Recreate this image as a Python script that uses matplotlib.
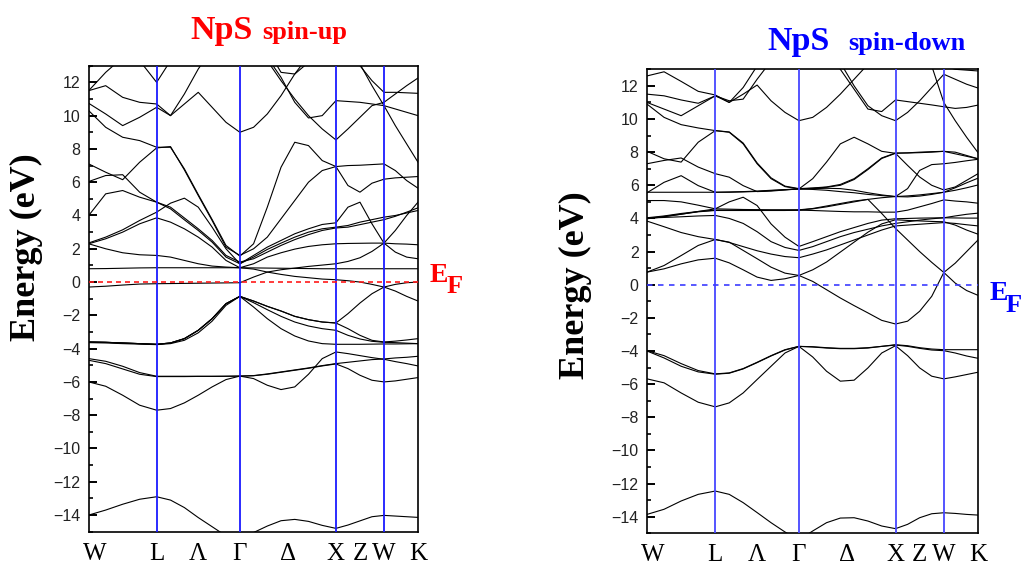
import numpy as np
import matplotlib.pyplot as plt
from matplotlib.ticker import MultipleLocator

# fcc path W-L-G-X-W-K, distances in units of 2pi/a
kpath_pts = [0.0, 0.707, 1.573, 2.573, 3.073, 3.427]
kpath_steps = [4, 6, 7, 4, 3]
klabels = ['W', 'L', 'Λ', 'Γ', 'Δ', 'X', 'Z', 'W', 'K']

# ---- NpS spin-up bands (eV), sampled along the path ----
up_s   = [-14.0, -13.7, -13.35, -13.05, -12.9,  -13.1, -13.55, -14.15, -14.7, -15.25, -15.6,  -15.05, -14.66, -14.34, -14.26, -14.38, -14.62, -14.8,  -14.6, -14.35, -14.1, -14.02,  -14.06, -14.1, -14.14]
up_p1  = [-6.0, -6.26, -6.8, -7.4, -7.7,  -7.6, -7.26, -6.8, -6.3, -5.86, -5.65,  -5.8, -6.2, -6.46, -6.3, -5.54, -4.6, -4.2,  -4.3, -4.42, -4.54, -4.64,  -4.78, -4.9, -5.04]
up_p2  = [-4.6, -4.76, -5.06, -5.44, -5.66,  -5.66, -5.66, -5.66, -5.66, -5.66, -5.65,  -5.62, -5.52, -5.4, -5.28, -5.16, -5.02, -4.9,  -4.82, -4.74, -4.66, -4.62,  -4.56, -4.52, -4.46]
up_p3  = [-4.7, -4.9, -5.22, -5.54, -5.68,  -5.68, -5.68, -5.67, -5.67, -5.66, -5.65,  -5.63, -5.54, -5.42, -5.3, -5.18, -5.04, -4.92,  -5.2, -5.6, -5.9, -6.0,  -5.94, -5.84, -5.74]
up_g1  = [-3.6, -3.62, -3.66, -3.7, -3.74,  -3.66, -3.4, -2.9, -2.2, -1.3, -0.86,  -1.14, -1.46, -1.74, -2.06, -2.26, -2.4, -2.46,  -1.9, -1.26, -0.7, -0.3,  -0.14, -0.04, 0.0]
up_g2  = [-3.6, -3.62, -3.66, -3.7, -3.74,  -3.66, -3.4, -2.9, -2.2, -1.3, -0.86,  -1.14, -1.46, -1.74, -2.06, -2.26, -2.4, -2.46,  -2.8, -3.2, -3.5, -3.6,  -3.55, -3.48, -3.4]
up_g3  = [-3.64, -3.66, -3.7, -3.73, -3.76,  -3.7, -3.5, -3.05, -2.35, -1.4, -0.86,  -1.24, -1.66, -2.06, -2.4, -2.64, -2.8, -2.9,  -3.2, -3.42, -3.56, -3.62,  -3.64, -3.67, -3.7]
up_g4  = [-3.6, -3.62, -3.66, -3.7, -3.74,  -3.66, -3.4, -2.9, -2.2, -1.3, -0.86,  -1.5, -2.2, -2.8, -3.24, -3.54, -3.7, -3.74,  -3.74, -3.74, -3.73, -3.72,  -3.72, -3.71, -3.7]
up_f0  = [-0.3, -0.25, -0.18, -0.12, -0.1,  -0.09, -0.08, -0.07, -0.06, -0.05, -0.04,  0.3, 0.6, 0.74, 0.84, 0.94, 1.02, 1.1,  1.24, 1.46, 1.84, 2.34,  3.1, 4.0, 4.8]
up_f1  = [0.8, 0.81, 0.83, 0.85, 0.86,  0.86, 0.86, 0.86, 0.86, 0.86, 0.86,  0.85, 0.84, 0.83, 0.82, 0.81, 0.8, 0.8,  0.8, 0.8, 0.8, 0.8,  0.8, 0.8, 0.8]
up_f2  = [2.3, 2.0, 1.76, 1.64, 1.6,  1.5, 1.3, 1.1, 0.96, 0.9, 0.86,  0.78, 0.6, 0.46, 0.34, 0.26, 0.18, 0.14,  0.08, 0.0, -0.14, -0.3,  -0.54, -0.86, -1.14]
up_q1  = [2.35, 2.7, 3.14, 3.7, 4.2,  4.74, 5.04, 4.5, 3.3, 2.0, 1.1,  1.5, 1.96, 2.34, 2.7, 3.0, 3.2, 3.3,  3.4, 3.6, 3.75, 3.9,  4.0, 4.15, 4.3]
up_q2  = [2.3, 2.6, 3.0, 3.5, 3.86,  3.6, 3.2, 2.7, 2.1, 1.3, 0.86,  1.1, 1.5, 1.76, 1.98, 2.14, 2.24, 2.3,  2.32, 2.33, 2.34, 2.34,  2.3, 2.28, 2.24]
up_r   = [4.0, 5.3, 5.5, 5.1, 4.8,  4.4, 3.74, 3.1, 2.4, 1.5, 1.1,  1.6, 2.1, 2.5, 2.9, 3.2, 3.46, 3.56,  4.5, 4.8, 3.5, 2.34,  1.8, 1.5, 1.4]
up_s2  = [6.04, 6.4, 6.45, 5.4, 4.8,  4.5, 3.85, 3.2, 2.5, 1.6, 1.2,  1.4, 1.8, 2.2, 2.55, 2.85, 3.1, 3.25,  3.3, 3.45, 3.6, 3.75,  3.95, 4.2, 4.46]
up_pa  = [7.1, 6.6, 6.15, 7.2, 8.06,  8.14, 6.74, 5.2, 3.7, 2.1, 1.6,  2.0, 2.7, 3.8, 4.9, 6.0, 6.7, 6.94,  7.0, 7.02, 7.06, 7.1,  6.7, 6.1, 5.64]
up_pb  = [10.3, 9.3, 8.7, 8.5, 8.1,  8.1, 6.8, 5.26, 3.76, 2.2, 1.56,  2.3, 4.5, 6.9, 8.4, 8.2, 7.3, 6.94,  5.8, 5.4, 5.94, 6.18,  6.26, 6.3, 6.34]
up_ua  = [11.5, 12.6, 13.5, 13.3, 12.0,  13.3, 14.5, 15.5, 16.0, 16.0, 16.0,  16.0, 13.5, 12.3, 10.8, 9.86, 10.0, 10.9,  10.85, 10.8, 10.7, 10.6,  10.4, 10.2, 10.0]
up_ub  = [11.5, 11.8, 11.1, 10.8, 10.7,  10.0, 10.7, 11.4, 10.5, 9.6, 9.0,  9.3, 10.1, 11.2, 12.5, 13.6, 14.5, 15.0,  14.2, 13.1, 11.8, 10.6,  9.4, 8.3, 7.2]
up_uc  = [10.74, 10.1, 9.4, 9.9, 10.5,  10.0, 11.3, 12.8, 14.0, 15.0, 15.5,  15.0, 14.0, 12.6, 12.5, 13.2, 14.3, 15.0,  14.0, 13.0, 12.1, 11.4,  11.4, 11.37, 11.34]
up_t1  = [14.0, 14.5, 15.0, 15.0, 15.0,  15.0, 15.0, 15.0, 15.0, 15.0, 15.0,  15.0, 13.3, 12.1, 11.0, 10.0, 9.2, 8.54,  9.2, 9.9, 10.6, 10.8,  11.3, 11.8, 12.26]
up_ue  = [12.9, 13.4, 14.0, 14.5, 15.0,  15.5, 15.5, 15.5, 15.5, 15.5, 15.5,  15.5, 15.5, 15.5, 15.5, 15.5, 15.5, 15.5,  15.5, 15.5, 15.5, 15.5,  15.5, 15.5, 15.5]

# ---- NpS spin-down bands (eV) ----
dn_s   = [-13.86, -13.55, -13.05, -12.65, -12.45,  -12.65, -13.15, -13.75, -14.36, -14.92, -15.4,  -14.86, -14.36, -14.08, -14.06, -14.26, -14.56, -14.72,  -14.46, -14.06, -13.82, -13.76,  -13.8, -13.86, -13.9]
dn_p1  = [-5.68, -5.92, -6.53, -7.09, -7.37,  -7.13, -6.53, -5.72, -4.92, -4.12, -3.72,  -4.36, -5.22, -5.82, -5.76, -5.02, -4.12, -3.68,  -4.28, -5.02, -5.52, -5.68,  -5.56, -5.42, -5.28]
dn_p2  = [-3.98, -4.28, -4.76, -5.18, -5.38,  -5.32, -5.06, -4.68, -4.28, -3.92, -3.72,  -3.76, -3.82, -3.86, -3.86, -3.82, -3.72, -3.62,  -3.68, -3.8, -3.88, -3.92,  -3.92, -3.92, -3.92]
dn_p3  = [-4.0, -4.42, -4.92, -5.26, -5.4,  -5.34, -5.08, -4.7, -4.3, -3.94, -3.72,  -3.74, -3.8, -3.84, -3.84, -3.8, -3.72, -3.64,  -3.72, -3.84, -3.94, -3.98,  -4.12, -4.3, -4.44]
dn_n1  = [0.76, 0.96, 1.26, 1.5, 1.6,  1.32, 0.9, 0.46, 0.26, 0.36, 0.56,  0.2, -0.3, -0.8, -1.26, -1.7, -2.15, -2.37,  -2.2, -1.6, -0.7, 0.74,  1.3, 2.0, 2.7]
dn_n2  = [0.76, 1.16, 1.76, 2.37, 2.73,  2.57, 2.07, 1.57, 1.06, 0.7, 0.56,  0.9, 1.37, 1.97, 2.57, 3.17, 3.67, 3.92,  3.88, 3.85, 3.82, 3.8,  3.6, 3.3, 3.05]
dn_m1  = [5.08, 5.08, 5.0, 4.8, 4.58,  4.56, 4.54, 4.53, 4.52, 4.52, 4.52,  4.6, 4.75, 4.9, 5.05, 5.15, 4.3, 3.4,  2.7, 2.0, 1.35, 0.74,  0.1, -0.35, -0.64]
dn_m2  = [3.98, 4.1, 4.25, 4.42, 4.58,  5.0, 5.28, 4.78, 3.67, 2.87, 2.31,  2.6, 2.9, 3.2, 3.45, 3.7, 3.9, 3.98,  4.0, 4.02, 4.03, 4.04,  4.03, 4.02, 4.02]
dn_m3  = [3.84, 3.5, 3.15, 2.9, 2.73,  2.55, 2.3, 2.05, 1.85, 1.7, 1.63,  1.85, 2.1, 2.4, 2.7, 3.0, 3.3, 3.55,  3.6, 3.65, 3.7, 3.75,  3.7, 3.62, 3.55]
dn_m4  = [4.02, 4.06, 4.1, 4.15, 4.18,  4.0, 3.7, 3.2, 2.6, 2.25, 2.07,  2.3, 2.6, 2.9, 3.15, 3.35, 3.55, 3.7,  3.8, 3.9, 3.98, 4.04,  4.15, 4.25, 4.32]
dn_m5  = [4.04, 4.15, 4.3, 4.42, 4.5,  4.5, 4.5, 4.5, 4.5, 4.5, 4.5,  4.48, 4.45, 4.42, 4.4, 4.4, 4.38, 4.38,  4.5, 4.7, 4.9, 5.12,  5.05, 5.0, 4.92]
dn_m6  = [4.0, 4.12, 4.26, 4.4, 4.48,  4.48, 4.48, 4.48, 4.48, 4.48, 4.5,  4.58, 4.7, 4.85, 5.0, 5.15, 5.25, 5.32,  5.36, 5.42, 5.5, 5.58,  5.85, 6.15, 6.43]
dn_m7  = [5.58, 5.58, 5.58, 5.58, 5.58,  5.6, 5.62, 5.65, 5.7, 5.74, 5.78,  5.8, 5.82, 5.8, 5.7, 5.55, 5.42, 5.32,  5.3, 5.35, 5.45, 5.58,  5.7, 5.85, 6.02]
dn_m8  = [5.55, 6.18, 6.58, 5.98, 5.58,  5.58, 5.6, 5.63, 5.68, 5.73, 5.78,  6.4, 7.4, 8.5, 8.9, 8.5, 8.05, 7.93,  7.2, 6.5, 6.0, 5.72,  5.9, 6.3, 6.7]
dn_m9  = [8.05, 7.6, 7.4, 8.6, 9.3,  9.2, 8.5, 7.3, 6.4, 5.92, 5.78,  5.82, 5.88, 6.0, 6.35, 6.95, 7.62, 7.93,  7.96, 8.0, 8.03, 8.05,  7.9, 7.75, 7.6]
dn_m10 = [10.9, 10.1, 9.66, 9.46, 9.3,  9.22, 8.55, 7.35, 6.45, 5.95, 5.8,  5.84, 5.9, 6.05, 6.4, 7.0, 7.65, 7.95,  7.95, 7.97, 8.0, 8.05,  8.0, 7.8, 7.6]
dn_m11 = [7.3, 7.5, 7.65, 7.1, 6.7,  6.49, 5.98, 5.62, 5.65, 5.72, 5.78,  5.75, 5.7, 5.62, 5.55, 5.45, 5.38, 5.32,  5.8, 6.9, 7.25, 7.3,  7.38, 7.48, 7.57]
dn_r1  = [12.6, 12.85, 12.27, 11.67, 11.45,  11.0, 11.9, 13.2, 14.3, 15.0, 15.5,  16.0, 14.5, 13.0, 11.8, 10.6, 10.45, 11.15,  11.05, 10.95, 10.85, 10.74,  10.64, 10.7, 10.84]
dn_r2  = [11.5, 11.4, 11.15, 10.95, 11.4,  11.1, 11.2, 12.4, 13.5, 14.5, 15.0,  15.5, 15.5, 15.5, 15.5, 15.5, 15.5, 15.5,  15.0, 14.5, 13.8, 13.2,  13.0, 12.95, 12.9]
dn_r3  = [11.0, 10.6, 10.2, 10.8, 11.4,  11.0, 11.5, 12.05, 11.1, 10.4, 9.9,  10.1, 10.7, 11.5, 12.4, 13.3, 14.0, 14.5,  15.0, 14.2, 13.2, 11.0,  9.9, 8.9, 7.97]
dn_t2  = [15.5, 15.5, 15.5, 15.5, 15.5,  15.5, 15.5, 15.5, 15.5, 15.5, 15.5,  16.0, 14.8, 13.4, 12.0, 10.8, 10.2, 9.9,  10.4, 11.1, 11.9, 12.7,  12.4, 12.1, 11.87]

bands_up = [up_s, up_p1, up_p2, up_p3, up_g1, up_g2, up_g3, up_g4, up_f0, up_f1,
            up_f2, up_q1, up_q2, up_r, up_s2, up_pa, up_pb, up_ua, up_ub, up_uc,
            up_t1, up_ue]
bands_dn = [dn_s, dn_p1, dn_p2, dn_p3, dn_n1, dn_n2, dn_m1, dn_m2, dn_m3, dn_m4,
            dn_m5, dn_m6, dn_m7, dn_m8, dn_m9, dn_m10, dn_m11, dn_r1, dn_r2,
            dn_r3, dn_t2]

# k mesh along the path
k = [kpath_pts[0]]
for i, n in enumerate(kpath_steps):
    k += list(np.linspace(kpath_pts[i], kpath_pts[i + 1], n + 1)[1:])
k = np.array(k)

# label positions: symmetry points plus midpoints for Λ, Δ, Z
W1, L, G, X, W2, K = kpath_pts
kticks = [W1 + 0.06, L, (L + G) / 2, G, (G + X) / 2, X, (X + W2) / 2, W2, K]

W, H = 1024, 568
fig = plt.figure(figsize=(W / 100, H / 100), dpi=100)

def px(x0, y0, x1, y1):
    return [x0 / W, 1 - y1 / H, (x1 - x0) / W, (y1 - y0) / H]

def draw(ax, bands, vcol, efcol, efdash):
    for b in bands:
        ax.plot(k, b, color='black', lw=0.8)
    for kv in [L, G, X, W2]:
        ax.axvline(kv, color=vcol, lw=1.3, zorder=3)
    ax.axhline(0, color=efcol, lw=1.2, ls=(0, efdash), zorder=3)
    ax.set_xlim(0, K)
    ax.set_ylim(-15, 13)
    ax.set_yticks(range(-14, 13, 2))
    ax.yaxis.set_minor_locator(MultipleLocator(1))
    ax.tick_params(axis='y', which='major', direction='in', length=6, width=1.4,
                   labelsize=11.5, pad=6, labelcolor='#222222')
    ax.tick_params(axis='y', which='minor', direction='in', length=3, width=1.2)
    ax.set_xticks(kticks)
    ax.set_xticklabels(klabels)
    ax.tick_params(axis='x', length=0, pad=8, labelsize=18)
    for t in ax.get_xticklabels():
        t.set_fontfamily('Liberation Serif')
    for t in ax.get_yticklabels():
        t.set_fontfamily('Liberation Sans')
    for s in ax.spines.values():
        s.set_linewidth(1.2)

ax1 = fig.add_axes(px(88.7, 65.7, 418, 531.7))
draw(ax1, bands_up, '#1a1aff', '#ff1a1a', (3.0, 2.4))
ax2 = fig.add_axes(px(647, 69.3, 978, 533.3))
draw(ax2, bands_dn, '#4646ff', '#3c3cff', (3.3, 3.3))

serif = 'Liberation Serif'
# titles
fig.text(190 / W, 1 - 39 / H, 'NpS', color='#ff0000', fontsize=24.5,
         fontweight='bold', family=serif, va='baseline')
fig.text(262 / W, 1 - 39 / H, 'spin-up', color='#ff0000', fontsize=19,
         fontweight='bold', family=serif, va='baseline')
fig.text(767 / W, 1 - 50 / H, 'NpS', color='#0000ff', fontsize=24.5,
         fontweight='bold', family=serif, va='baseline')
fig.text(848 / W, 1 - 50 / H, 'spin-down', color='#0000ff', fontsize=19,
         fontweight='bold', family=serif, va='baseline')

# energy axis labels
for xc, yc in [(26, 247), (575, 285)]:
    fig.text(xc / W, 1 - yc / H, 'Energy (eV)', rotation=90, fontsize=26,
             fontweight='bold', family=serif, ha='center', va='center')

# Fermi level tags
for (ex, ey, fx, fy), c in [((430, 282, 447, 293), '#ff0000'),
                            ((990, 300, 1006, 312), '#0000ff')]:
    fig.text(ex / W, 1 - ey / H, 'E', color=c, fontsize=20, fontweight='bold',
             family=serif, va='baseline')
    fig.text(fx / W, 1 - fy / H, 'F', color=c, fontsize=19, fontweight='bold',
             family=serif, va='baseline')

fig.savefig('out.png', dpi=100)
